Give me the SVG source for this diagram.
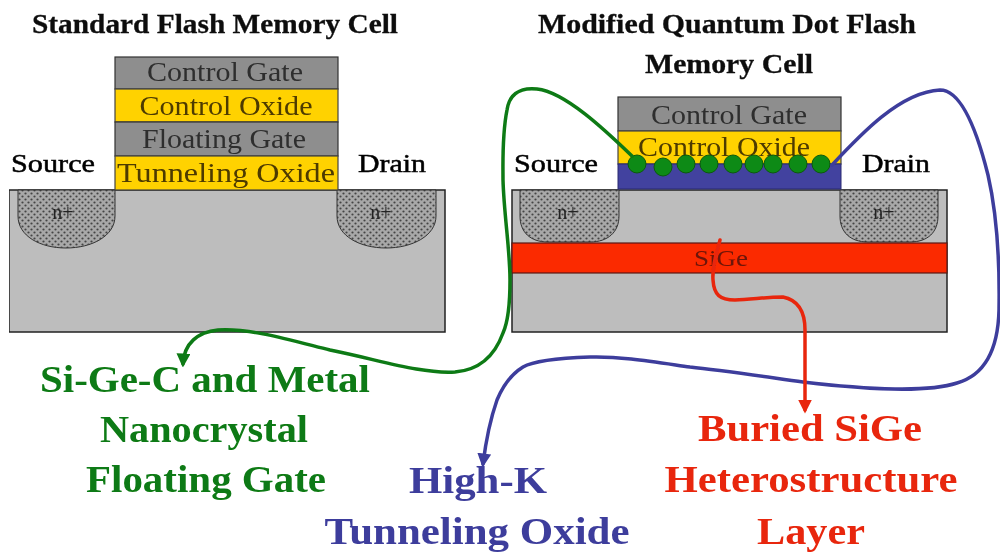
<svg xmlns="http://www.w3.org/2000/svg" width="1000" height="552" viewBox="0 0 1000 552">
<style>
text{font-family:"Liberation Serif","Times New Roman",serif;text-anchor:middle}
.t{font-size:28px;font-weight:bold;fill:#111;stroke:#111;stroke-width:.3}
.sd{font-size:26px;fill:#000;stroke:#000;stroke-width:.5}
.l{font-size:27px;fill:#2f2f2f}
.ly{font-size:27px;fill:#4d3a00}
.n{font-size:20px;fill:#222}
.big{font-size:37px;font-weight:bold}
.g{fill:#0b7a12}.b{fill:#3d3d9c}.r{fill:#e8260c}
.sub{fill:#bdbdbd;stroke:#222;stroke-width:1.5}
.gate{fill:#8e8e8e;stroke:#333;stroke-width:1.2}
.ox{fill:#ffd200;stroke:#444;stroke-width:1.2}
.well{fill:url(#dots);stroke:#333;stroke-width:1}
.dot{fill:#0b8a12;stroke:#0a5a10;stroke-width:1}
.c{fill:none;stroke-width:3.5;stroke-linecap:round;stroke-linejoin:round}
</style>
<defs>
<filter id="soft" x="0" y="0" width="100%" height="100%"><feGaussianBlur stdDeviation="0.5"/></filter>
<pattern id="dots" width="6" height="6" patternUnits="userSpaceOnUse"><rect width="6" height="6" fill="#a8a8a8"/><circle cx="1.5" cy="1.5" r="1.1" fill="#444"/><circle cx="4.5" cy="4.5" r="1.1" fill="#444"/></pattern>
<marker id="ag" markerWidth="4" markerHeight="4" refX="3" refY="2" orient="auto"><path d="M0,0L4,2L0,4Z" fill="#0b7a12"/></marker>
<marker id="ab" markerWidth="4" markerHeight="4" refX="3" refY="2" orient="auto"><path d="M0,0L4,2L0,4Z" fill="#3d3d9c"/></marker>
<marker id="ar" markerWidth="4" markerHeight="4" refX="3" refY="2" orient="auto"><path d="M0,0L4,2L0,4Z" fill="#e8260c"/></marker>
</defs>
<g filter="url(#soft)">
<g id="standard-cell">
<text class="t" x="215" y="33" textLength="366" lengthAdjust="spacingAndGlyphs">Standard Flash Memory Cell</text>
<rect class="sub" x="9" y="190" width="436" height="142"/>
<path class="well" d="M18,190H115V216C115,236 92,248 66,248C40,248 18,236 18,216Z"/>
<path class="well" d="M337,190H436V216C436,236 412,248 386,248C360,248 337,236 337,216Z"/>
<text class="n" x="63" y="219">n+</text>
<text class="n" x="381" y="219">n+</text>
<rect class="gate" x="115" y="57" width="223" height="32"/>
<rect class="ox" x="115" y="89" width="223" height="33"/>
<rect class="gate" x="115" y="122" width="223" height="34"/>
<rect class="ox" x="115" y="156" width="223" height="34"/>
<text class="l" x="225" y="81" textLength="156" lengthAdjust="spacingAndGlyphs">Control Gate</text>
<text class="ly" x="226" y="115" textLength="173" lengthAdjust="spacingAndGlyphs">Control Oxide</text>
<text class="l" x="224" y="148" textLength="164" lengthAdjust="spacingAndGlyphs">Floating Gate</text>
<text class="ly" x="226" y="182" textLength="218" lengthAdjust="spacingAndGlyphs">Tunneling Oxide</text>
<text class="sd" x="53" y="172" textLength="84" lengthAdjust="spacingAndGlyphs">Source</text>
<text class="sd" x="392" y="172" textLength="68" lengthAdjust="spacingAndGlyphs">Drain</text>
</g>
<g id="quantum-cell">
<text class="t" x="727" y="33" textLength="378" lengthAdjust="spacingAndGlyphs">Modified Quantum Dot Flash</text>
<text class="t" x="729" y="73" textLength="168" lengthAdjust="spacingAndGlyphs">Memory Cell</text>
<rect class="sub" x="512" y="190" width="435" height="142"/>
<path class="well" d="M520,190H619V216C619,232 608,242 590,242H548C530,242 520,232 520,216Z"/>
<path class="well" d="M840,190H938V216C938,232 928,242 910,242H868C850,242 840,232 840,216Z"/>
<text class="n" x="568" y="219">n+</text>
<text class="n" x="884" y="219">n+</text>
<rect x="512" y="243" width="435" height="30" fill="#fb2a00" stroke="#5a1a10" stroke-width="1.2"/>
<text x="721" y="266" font-size="24" fill="#6a1408" textLength="54" lengthAdjust="spacingAndGlyphs">SiGe</text>
<rect class="gate" x="618" y="97" width="223" height="34"/>
<rect class="ox" x="618" y="131" width="223" height="33"/>
<rect x="618" y="164" width="223" height="25" fill="#43439f" stroke="#2a2a70" stroke-width="1"/>
<text class="l" x="729" y="124" textLength="156" lengthAdjust="spacingAndGlyphs">Control Gate</text>
<text class="ly" x="724" y="156" textLength="172" lengthAdjust="spacingAndGlyphs">Control Oxide</text>
<g id="dots-row">
<circle class="dot" cx="637" cy="164" r="9"/><circle class="dot" cx="663" cy="167" r="9"/><circle class="dot" cx="686" cy="164" r="9"/><circle class="dot" cx="709" cy="164" r="9"/><circle class="dot" cx="733" cy="164" r="9"/><circle class="dot" cx="754" cy="164" r="9"/><circle class="dot" cx="773" cy="164" r="9"/><circle class="dot" cx="798" cy="164" r="9"/><circle class="dot" cx="821" cy="164" r="9"/>
</g>
<text class="sd" x="556" y="172" textLength="84" lengthAdjust="spacingAndGlyphs">Source</text>
<text class="sd" x="896" y="172" textLength="68" lengthAdjust="spacingAndGlyphs">Drain</text>
</g>
<g id="connectors">
<path class="c" stroke="#0b7a12" marker-end="url(#ag)" d="M632,156C605,130 565,92 537,89C518,87 509,96 507,110C502,135 503,160 503,180C504,215 510,250 510,280C510,305 508,322 503,333C495,355 480,370 455,372C420,374 380,360 330,350C290,340 250,328 218,330C198,332 184,343 183,364"/>
<path class="c" stroke="#3d3d9c" marker-end="url(#ab)" d="M832,165C860,135 900,92 940,90C962,90 978,135 988,175C996,210 1000,250 999,310C998,350 985,375 957,383C930,392 870,390 803,382C760,376 720,370 690,367C655,362 620,356 590,357C560,358 535,360 523,367C510,375 502,388 497,400C490,420 486,440 483,464"/>
<path class="c" stroke="#e8260c" marker-end="url(#ar)" d="M720,240C716,255 712,268 713,280C714,295 720,300 735,300C750,300 765,297 783,297C798,300 805,312 805,330V410"/>
</g>
<g id="label-green"><text class="big g" x="205" y="392" textLength="330" lengthAdjust="spacingAndGlyphs">Si-Ge-C and Metal</text><text class="big g" x="204" y="442" textLength="208" lengthAdjust="spacingAndGlyphs">Nanocrystal</text><text class="big g" x="206" y="492" textLength="240" lengthAdjust="spacingAndGlyphs">Floating Gate</text></g>
<g id="label-blue"><text class="big b" x="478" y="493" textLength="138" lengthAdjust="spacingAndGlyphs">High-K</text><text class="big b" x="477" y="544" textLength="305" lengthAdjust="spacingAndGlyphs">Tunneling Oxide</text></g>
<g id="label-red"><text class="big r" x="810" y="441" textLength="224" lengthAdjust="spacingAndGlyphs">Buried SiGe</text><text class="big r" x="811" y="492" textLength="293" lengthAdjust="spacingAndGlyphs">Heterostructure</text><text class="big r" x="811" y="544" textLength="108" lengthAdjust="spacingAndGlyphs">Layer</text></g>
</g>
</svg>
